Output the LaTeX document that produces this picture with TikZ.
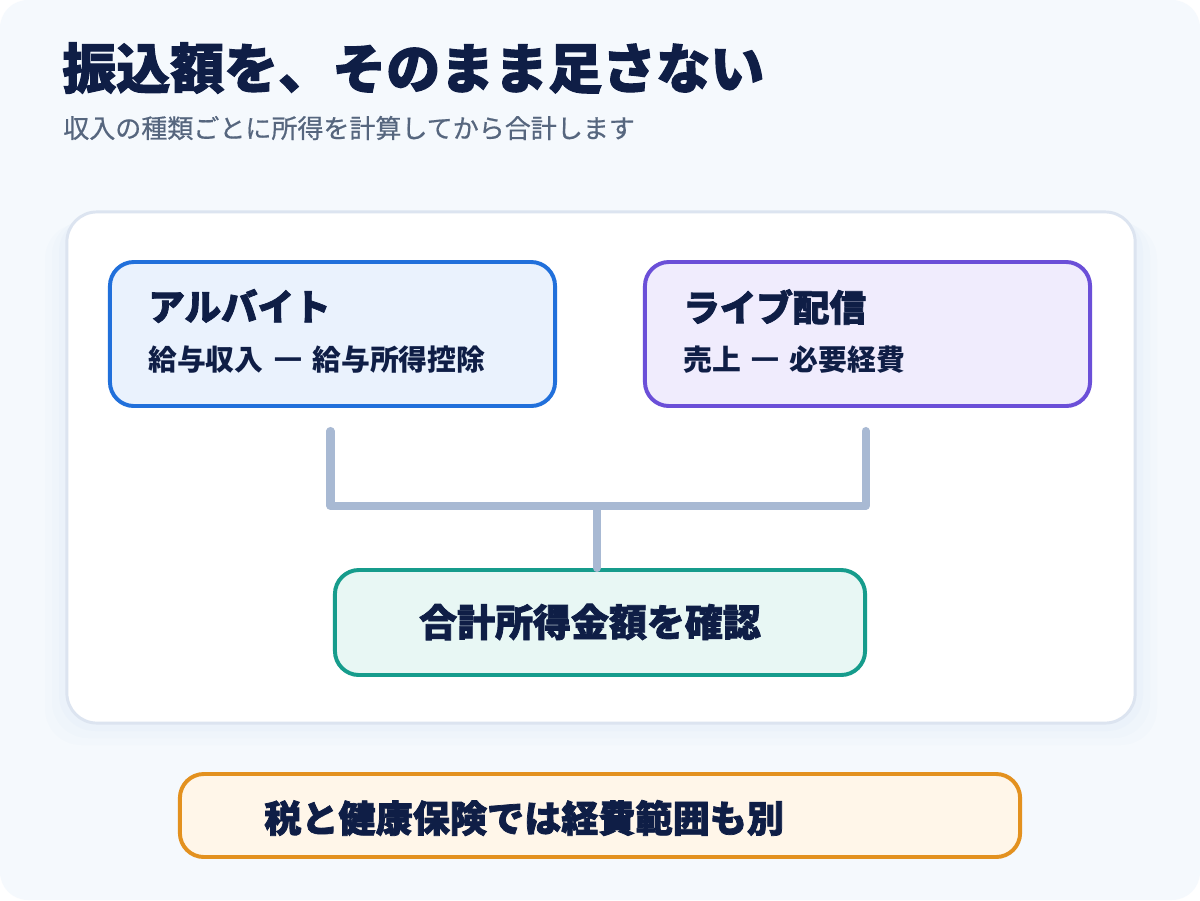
\documentclass[tikz,border=0pt]{standalone}
\usepackage{fontspec}
\setmainfont{Noto Sans CJK JP}
\newfontfamily\jpheavy{Noto Sans CJK JP}[BoldFeatures={FakeBold=2}]
\newfontfamily\jpmid{Noto Sans CJK JP}[FakeBold=0.6]

\definecolor{ink}{HTML}{0F1E46}
\definecolor{subgray}{HTML}{56667E}
\definecolor{bgpale}{HTML}{F5F9FD}
\definecolor{cardline}{HTML}{DCE4F0}
\definecolor{blueline}{HTML}{2170DB}
\definecolor{bluefill}{HTML}{EAF2FD}
\definecolor{purpline}{HTML}{6B4FD8}
\definecolor{purpfill}{HTML}{F0ECFD}
\definecolor{tealline}{HTML}{169C8C}
\definecolor{tealfill}{HTML}{E8F7F4}
\definecolor{orgline}{HTML}{E3911F}
\definecolor{orgfill}{HTML}{FFF6E9}
\definecolor{linkgray}{HTML}{A8B9D3}

\newcommand{\gapminus}{\hspace{0.33em}\scalebox{1.7}[1]{−}\hspace{0.33em}}

\begin{document}
\begin{tikzpicture}[x=0.025cm,y=-0.025cm,
    box/.style={draw, line width=2.8pt, rounded corners=0.6cm, inner sep=0},
    head/.style={anchor=west, inner sep=0, text=ink,
      font=\jpheavy\bfseries\fontsize{26}{30}\selectfont},
    formula/.style={anchor=west, inner sep=0, text=ink,
      font=\bfseries\fontsize{20.5}{24}\selectfont},
    link/.style={draw=linkgray, line width=5.7pt, line cap=round, line join=round}]
  \fill[white] (0,0) rectangle (1200,900);
  \fill[bgpale, rounded corners=0.7cm] (0,0) rectangle (1200,900);

  \node[anchor=west, inner sep=0, text=ink,
    font=\jpheavy\bfseries\fontsize{38.4}{44}\selectfont] (title) at (62,68) {振込額を、そのまま足さない};
  \node[anchor=west, inner sep=0, text=subgray,
    font=\jpmid\fontsize{18.5}{22}\selectfont] (sub) at (63,128) {収入の種類ごとに所得を計算してから合計します};

  \foreach \s/\o in {22/0.03,15/0.04,8/0.05}
    \fill[blueline!40, opacity=\o, rounded corners=0.9cm] (67-\s,212+\s/2) rectangle (1135+\s,723+\s);
  \node[box, draw=cardline, line width=2.1pt, fill=white, rounded corners=0.75cm,
    minimum width=26.7cm, minimum height=12.775cm] (card) at (601,467.5) {};

  \node[box, draw=blueline, fill=bluefill, minimum width=11.125cm, minimum height=3.6cm] (alb) at (332.5,334) {};
  \node[head] (albhead) at (148,306) {アルバイト};
  \node[formula] (albcalc) at (148,360) {給与収入\gapminus 給与所得控除};

  \node[box, draw=purpline, fill=purpfill, minimum width=11.125cm, minimum height=3.6cm] (live) at (867.5,334) {};
  \node[head] (livehead) at (683,307) {ライブ配信};
  \node[formula] (livecalc) at (683,360) {売上\gapminus 必要経費};

  \node[box, draw=tealline, fill=tealfill, minimum width=13.25cm, minimum height=2.625cm] (total) at (600,622.5) {};
  \node[inner sep=0, text=ink, font=\jpheavy\bfseries\fontsize{27}{32}\selectfont]
    (totaltext) at (590,622) {合計所得金額を確認};

  \coordinate (join) at (597,506);
  \draw[link] ([shift={(-2,23)}]alb.south) |- (join) -| ([shift={(-2,23)}]live.south);
  \draw[link] (join) -- (join |- total.north);

  \node[box, draw=orgline, fill=orgfill, minimum width=21cm, minimum height=2.075cm] (note) at (600,815.5) {};
  \node[anchor=west, inner sep=0, text=ink,
    font=\jpheavy\bfseries\fontsize{26.4}{30}\selectfont] (notetext) at (264,818) {税と健康保険では経費範囲も別};
\end{tikzpicture}
\end{document}
